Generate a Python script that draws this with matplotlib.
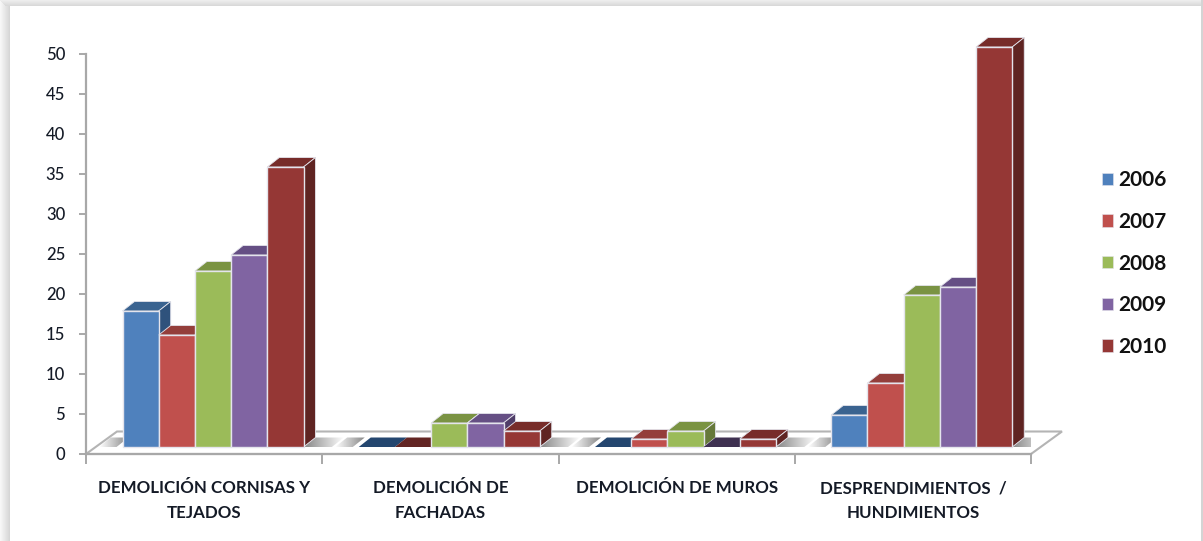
"""Demolition and collapse incidents per year, drawn as pseudo-3D clustered columns."""

import matplotlib

matplotlib.use("Agg")

import matplotlib.pyplot as plt
import numpy as np
from matplotlib.patches import Patch, Polygon, Rectangle

categories = [
    "DEMOLICIÓN CORNISAS Y\nTEJADOS",
    "DEMOLICIÓN DE\nFACHADAS",
    "DEMOLICIÓN DE MUROS",
    "DESPRENDIMIENTOS  /\nHUNDIMIENTOS",
]
years = ["2006", "2007", "2008", "2009", "2010"]
values_2006 = [17, 0, 0, 4]
values_2007 = [14, 0, 1, 8]
values_2008 = [22, 3, 2, 19]
values_2009 = [24, 3, 0, 20]
values_2010 = [35, 2, 1, 50]
y_ticks = list(range(0, 55, 5))

series = [values_2006, values_2007, values_2008, values_2009, values_2010]
front_colors = ["#4F81BD", "#C0504D", "#9BBB59", "#8064A2", "#953735"]
top_colors = ["#3A6390", "#943E3B", "#7A9343", "#654F84", "#772C2A"]
side_colors = ["#2F527C", "#7E2F2D", "#66793A", "#4F3D68", "#5F2422"]
zero_colors = ["#24466F", "#632523", "#4F6228", "#3F3151", "#632523"]

FIG_W, FIG_H = 1203, 541
AX_LEFT, AX_RIGHT, AX_BOTTOM, AX_TOP = 86, 1031, 454, 54
GROUP_PX = (AX_RIGHT - AX_LEFT) / len(categories)
UNIT_PX = (AX_BOTTOM - AX_TOP) / 50

# depth of the fake 3D box, in axis units
BAR_W = 36.2 / GROUP_PX
BAR_START = 36.5 / GROUP_PX
DEPTH_X = 12 / GROUP_PX
DEPTH_Y = 9.5 / UNIT_PX
BASE_Y = 7 / UNIT_PX
FLOOR_X = 31 / GROUP_PX
FLOOR_Y = 22.5 / UNIT_PX

EDGE = "#E4E4EC"
AXIS_GREY = "#A8A8A8"
TEXT = "#141A26"

plt.rcParams["font.family"] = ["Lato", "DejaVu Sans"]


def draw_box(ax, x, value, front, top, side, zero):
    """Draw one column: top and side faces first, then the front."""
    y0, y1 = BASE_Y, BASE_Y + value
    x1 = x + BAR_W
    top_pts = [(x, y1), (x1, y1), (x1 + DEPTH_X, y1 + DEPTH_Y), (x + DEPTH_X, y1 + DEPTH_Y)]
    if value == 0:
        ax.add_patch(Polygon(top_pts, closed=True, fc=zero, ec="none", clip_on=False, zorder=4))
        return
    ax.add_patch(Polygon(top_pts, closed=True, fc=top, ec=EDGE, lw=0.6, clip_on=False, zorder=4))
    side_pts = [(x1, y0), (x1, y1), (x1 + DEPTH_X, y1 + DEPTH_Y), (x1 + DEPTH_X, y0 + DEPTH_Y)]
    ax.add_patch(Polygon(side_pts, closed=True, fc=side, ec=EDGE, lw=0.6, clip_on=False, zorder=4))
    ax.add_patch(
        Rectangle((x, y0), BAR_W, value, fc=front, ec=EDGE, lw=1.0, clip_on=False, zorder=4)
    )


def draw_shadow(ax, x_dark, x_fade):
    """Soft grey band on the floor, darkest at x_dark and gone by x_fade."""
    rgba = np.zeros((1, 32, 4))
    rgba[..., :3] = 0.45
    rgba[..., 3] = np.linspace(0.85, 0, 32)
    left, right = min(x_dark, x_fade), max(x_dark, x_fade)
    if x_fade < x_dark:
        rgba = rgba[:, ::-1, :]
    y0, y1 = BASE_Y, BASE_Y + DEPTH_Y
    image = ax.imshow(
        rgba,
        extent=(left, right + DEPTH_X, y0, y1),
        aspect="auto",
        interpolation="bilinear",
        zorder=2,
    )
    band = Polygon(
        [(left, y0), (right, y0), (right + DEPTH_X, y1), (left + DEPTH_X, y1)],
        closed=True,
        transform=ax.transData,
    )
    image.set_clip_path(band)


def draw_page(fig):
    """White card with the soft grey shadow along its left and top edges."""
    for i, shade in enumerate(np.linspace(0.97, 0.84, 10)):
        fig.patches.append(
            Rectangle(
                (i / FIG_W, 0), 1 / FIG_W, 1, transform=fig.transFigure,
                fc=str(shade), ec="none", zorder=-2,
            )
        )
    for i, shade in enumerate(np.linspace(0.93, 0.85, 6)):
        fig.patches.append(
            Rectangle(
                (i / FIG_W, 1 - (i + 1) / FIG_H), 1 - i / FIG_W, 1 / FIG_H,
                transform=fig.transFigure, fc=str(shade), ec="none", zorder=-2,
            )
        )
    fig.patches.append(
        Rectangle(
            (1201 / FIG_W, 0), 2 / FIG_W, 1, transform=fig.transFigure,
            fc="#D4D4D4", ec="none", zorder=-2,
        )
    )


def main():
    fig = plt.figure(figsize=(FIG_W / 100, FIG_H / 100), dpi=100, facecolor="white")
    draw_page(fig)
    ax = fig.add_axes(
        [
            AX_LEFT / FIG_W,
            1 - AX_BOTTOM / FIG_H,
            (AX_RIGHT - AX_LEFT) / FIG_W,
            (AX_BOTTOM - AX_TOP) / FIG_H,
        ]
    )
    ax.patch.set_alpha(0)

    # floor of the chart
    n_groups = len(categories)
    floor = [(0, 0), (n_groups, 0), (n_groups + FLOOR_X, FLOOR_Y), (FLOOR_X, FLOOR_Y)]
    ax.add_patch(Polygon(floor, closed=True, fc="white", ec="#B4B4B4", lw=1.5, clip_on=False, zorder=1))

    for g in range(n_groups):
        first = g + BAR_START
        last = first + BAR_W * len(series)
        draw_shadow(ax, first - DEPTH_X / 2, first - 0.1)
        draw_shadow(ax, last, last + 0.12)

    for g in range(n_groups):
        for s, vals in enumerate(series):
            x = g + BAR_START + s * BAR_W
            draw_box(ax, x, vals[g], front_colors[s], top_colors[s], side_colors[s], zero_colors[s])

    ax.set_xlim(0, n_groups)
    ax.set_ylim(0, 50)
    ax.set_yticks(y_ticks)
    ax.set_xticks(range(n_groups + 1))
    ax.set_xticklabels([])
    ax.set_xticks(np.arange(n_groups) + 0.5, labels=categories, minor=True)

    for name in ("top", "right"):
        ax.spines[name].set_visible(False)
    for name in ("left", "bottom"):
        ax.spines[name].set_color(AXIS_GREY)
        ax.spines[name].set_linewidth(1.6)
        ax.spines[name].set_zorder(3)

    ax.tick_params(axis="y", length=5, width=1.4, color=AXIS_GREY, pad=10, labelsize=12, labelcolor=TEXT)
    ax.tick_params(axis="x", which="major", length=7, width=1.4, color=AXIS_GREY)
    ax.tick_params(axis="x", which="minor", length=0, pad=19, labelsize=12.2, labelcolor=TEXT)
    for label in ax.get_xticklabels(minor=True):
        label.set_fontweight("bold")
        label.set_linespacing(1.68)
        label.set_verticalalignment("top")
    for label in ax.get_yticklabels():
        label.set_fontweight("medium")

    handles = [Patch(fc=c, ec=EDGE, lw=0.4) for c in front_colors]
    ax.legend(
        handles,
        years,
        loc="center left",
        bbox_to_anchor=(1091.5 / FIG_W, 1 - 263.5 / FIG_H),
        bbox_transform=fig.transFigure,
        frameon=False,
        handlelength=0.55,
        handleheight=0.55,
        handletextpad=0.25,
        labelspacing=1.04,
        borderpad=0,
        prop={"size": 15, "weight": "bold"},
        labelcolor="#111111",
    )

    fig.savefig("out.png", dpi=100, facecolor=fig.get_facecolor())
    plt.close(fig)


if __name__ == "__main__":
    main()
